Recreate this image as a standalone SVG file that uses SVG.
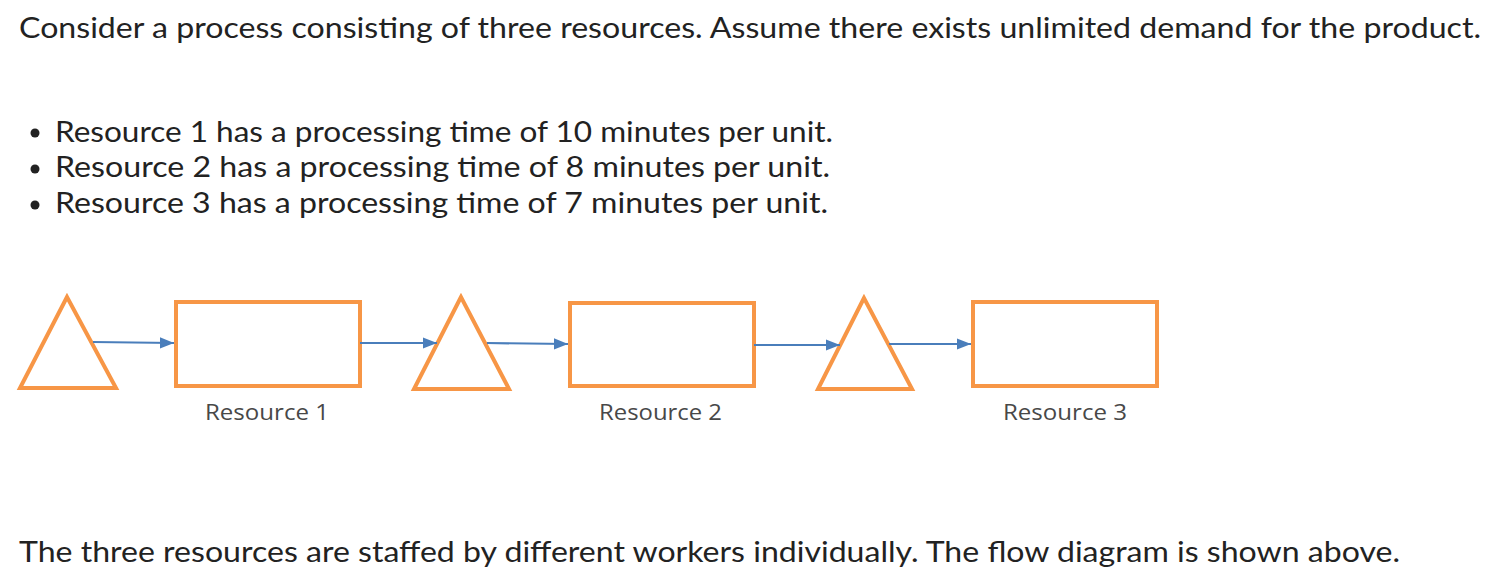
<svg xmlns="http://www.w3.org/2000/svg" width="1498" height="584" viewBox="0 0 1498 584">
<style>
.t{font-family:Lato,"Open Sans","Liberation Sans",sans-serif;font-size:28px;fill:#222}
.lbl{font-family:"Open Sans","Liberation Sans",sans-serif;font-size:21px;fill:#484848}
.shape{fill:#fff;stroke:#F79646;stroke-width:4;stroke-linejoin:miter}
.con{stroke:#4A7EBB;stroke-width:2.2;fill:none}
</style>
<defs>
<marker id="ah" markerWidth="6.5" markerHeight="5.2" refX="6.5" refY="2.6" orient="auto" markerUnits="strokeWidth">
<path d="M0,0 L6.5,2.6 L0,5.2 Z" fill="#4A7EBB"/>
</marker>
</defs>
<rect width="1498" height="584" fill="#fff"/>
<text class="t" x="19" y="38" textLength="1462" lengthAdjust="spacingAndGlyphs">Consider a process consisting of three resources. Assume there exists unlimited demand for the product.</text>
<circle cx="35" cy="133" r="4.5" fill="#222"/>
<circle cx="35" cy="169" r="4.5" fill="#222"/>
<circle cx="35" cy="205" r="4.5" fill="#222"/>
<text class="t" x="55" y="142" textLength="778" lengthAdjust="spacingAndGlyphs">Resource 1 has a processing time of 10 minutes per unit.</text>
<text class="t" x="55" y="177" textLength="775" lengthAdjust="spacingAndGlyphs">Resource 2 has a processing time of 8 minutes per unit.</text>
<text class="t" x="55" y="213" textLength="773" lengthAdjust="spacingAndGlyphs">Resource 3 has a processing time of 7 minutes per unit.</text>
<text class="t" x="19" y="562" textLength="1381" lengthAdjust="spacingAndGlyphs">The three resources are staffed by different workers individually. The flow diagram is shown above.</text>
<g id="buffer1"><polygon class="shape" points="67,297 20,388 116,388"/></g>
<g id="resource1"><rect class="shape" x="176" y="302" width="184" height="84"/><text class="lbl" x="205" y="420" textLength="124" lengthAdjust="spacingAndGlyphs">Resource 1</text></g>
<g id="buffer2"><polygon class="shape" points="461,297 414,389 509,389"/></g>
<g id="resource2"><rect class="shape" x="570" y="303" width="184" height="83"/><text class="lbl" x="599" y="420" textLength="123" lengthAdjust="spacingAndGlyphs">Resource 2</text></g>
<g id="buffer3"><polygon class="shape" points="864,298 818,389 912,389"/></g>
<g id="resource3"><rect class="shape" x="973" y="302" width="184" height="84"/><text class="lbl" x="1003" y="420" textLength="124" lengthAdjust="spacingAndGlyphs">Resource 3</text></g>
<g id="connectors">
<line class="con" x1="93" y1="342" x2="174" y2="343" marker-end="url(#ah)"/>
<line class="con" x1="360" y1="343" x2="437" y2="343" marker-end="url(#ah)"/>
<line class="con" x1="487" y1="343" x2="568" y2="344" marker-end="url(#ah)"/>
<line class="con" x1="754" y1="345" x2="840" y2="345" marker-end="url(#ah)"/>
<line class="con" x1="889" y1="344" x2="971" y2="344" marker-end="url(#ah)"/>
</g>
</svg>
